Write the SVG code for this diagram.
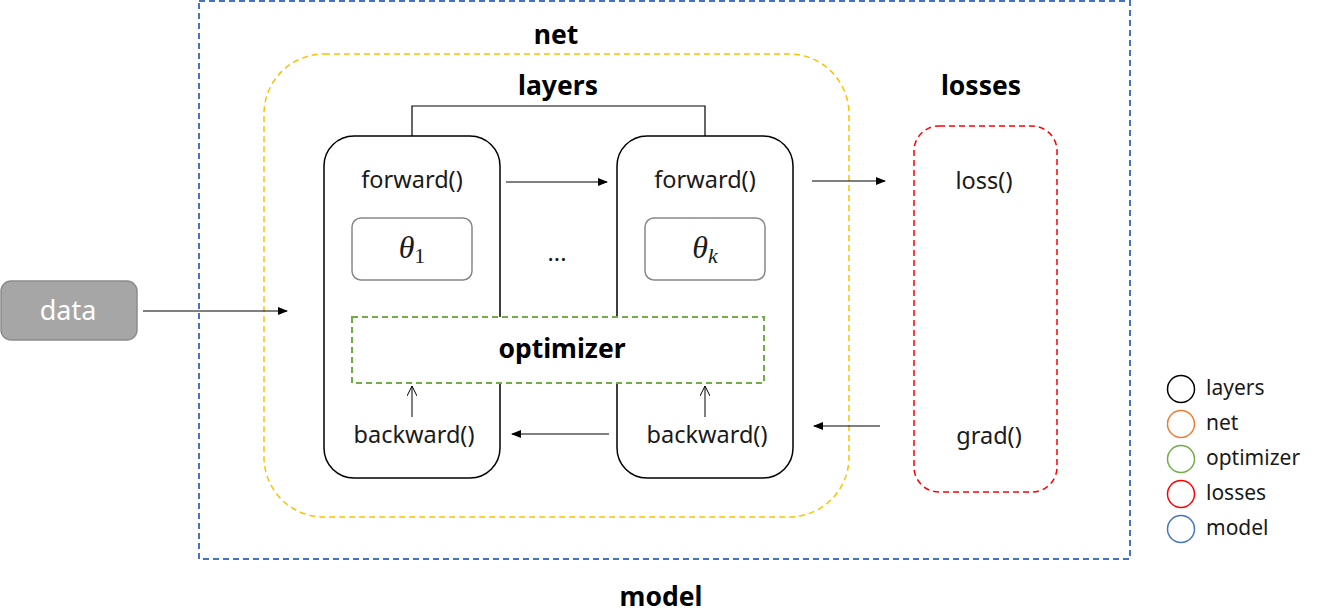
<svg xmlns="http://www.w3.org/2000/svg" width="1318" height="616" viewBox="0 0 1318 616">
<style>
text{font-family:"Noto Sans","Open Sans","Liberation Sans",sans-serif;fill:#1a1a1a;text-anchor:middle;dominant-baseline:central}
.t{font-size:23.5px}
.b{font-size:26.5px;font-weight:bold;fill:#000}
.m{font-family:"Liberation Serif","DejaVu Serif",serif;font-style:italic;font-size:32px}
.s{font-family:"Liberation Serif","DejaVu Serif",serif;font-size:22px;font-style:normal}
.si{font-family:"Liberation Serif","DejaVu Serif",serif;font-size:22px;font-style:italic}
.lg{font-size:21px;text-anchor:start}
.ln{stroke:#000;stroke-width:1.2;fill:none}
</style>
<defs>
<marker id="ah" markerWidth="10" markerHeight="8" refX="9" refY="4" orient="auto" markerUnits="userSpaceOnUse"><path d="M0,0 L10,4 L0,8 z" fill="#000"/></marker>
<marker id="oa" markerWidth="12" markerHeight="10" refX="10" refY="5" orient="auto" markerUnits="userSpaceOnUse"><path d="M0,0 L10,5 L0,10" fill="none" stroke="#000" stroke-width="1"/></marker>
</defs>
<g id="model">
<rect x="199" y="1" width="931" height="558" fill="none" stroke="#4472C4" stroke-width="2" stroke-dasharray="6,4"/>
<text class="b" x="661" y="596">model</text>
</g>
<g id="net">
<rect x="264" y="54" width="585" height="463" rx="60" fill="none" stroke="#FFC000" stroke-width="1.5" stroke-dasharray="6,4"/>
<text class="b" x="556" y="34">net</text>
</g>
<g id="layers">
<text class="b" x="558" y="85">layers</text>
<path class="ln" d="M412,136 V106 H705 V136"/>
</g>
<g id="layer1">
<rect x="324" y="136" width="176" height="342" rx="30" fill="#fff" stroke="#000" stroke-width="1.5"/>
<text class="t" x="412" y="179">forward()</text>
<rect x="352" y="218" width="120" height="62" rx="9" fill="#fff" stroke="#888" stroke-width="1.5"/>
<text class="m" x="412" y="247">θ<tspan class="s" dy="8">1</tspan></text>
<text class="t" x="414" y="434">backward()</text>
</g>
<g id="layerk">
<rect x="617" y="136" width="176" height="342" rx="30" fill="#fff" stroke="#000" stroke-width="1.5"/>
<text class="t" x="705" y="179">forward()</text>
<rect x="645" y="218" width="120" height="62" rx="9" fill="#fff" stroke="#888" stroke-width="1.5"/>
<text class="m" x="705" y="247">θ<tspan class="si" dy="8">k</tspan></text>
<text class="t" x="707" y="434">backward()</text>
</g>
<g id="dots"><text class="t" x="557" y="252">...</text></g>
<g id="optimizer">
<rect x="352" y="317" width="412" height="66" fill="#fff" stroke="#70AD47" stroke-width="2" stroke-dasharray="6,4"/>
<text class="b" x="562" y="348">optimizer</text>
</g>
<g id="losses">
<rect x="914" y="126" width="143" height="366" rx="25" fill="none" stroke="#FF0000" stroke-width="1.5" stroke-dasharray="6,4"/>
<text class="b" x="981" y="85">losses</text>
<text class="t" x="984" y="180">loss()</text>
<text class="t" x="989" y="435">grad()</text>
</g>
<g id="data">
<rect x="1" y="281" width="136" height="59" rx="10" fill="#A6A6A6" stroke="#8c8c8c" stroke-width="1.5"/>
<text x="68" y="309" style="font-size:27px;fill:#fff">data</text>
</g>
<g id="connectors">
<line class="ln" x1="143" y1="311" x2="287" y2="311" marker-end="url(#ah)"/>
<line class="ln" x1="506" y1="182" x2="607" y2="182" marker-end="url(#ah)"/>
<line class="ln" x1="812" y1="181" x2="885" y2="181" marker-end="url(#ah)"/>
<line class="ln" x1="609" y1="434" x2="512" y2="434" marker-end="url(#ah)"/>
<line class="ln" x1="880" y1="426" x2="814" y2="426" marker-end="url(#ah)"/>
<line x1="412" y1="417" x2="412" y2="386" stroke="#000" stroke-width="1" marker-end="url(#oa)"/>
<line x1="705" y1="417" x2="705" y2="386" stroke="#000" stroke-width="1" marker-end="url(#oa)"/>
</g>
<g id="legend">
<circle cx="1181" cy="389" r="13.5" fill="none" stroke="#000" stroke-width="1.5"/>
<circle cx="1181" cy="424" r="13.5" fill="none" stroke="#ED7D31" stroke-width="1.5"/>
<circle cx="1181" cy="459" r="13.5" fill="none" stroke="#70AD47" stroke-width="1.5"/>
<circle cx="1181" cy="494" r="13.5" fill="none" stroke="#FF0000" stroke-width="1.5"/>
<circle cx="1181" cy="529" r="13.5" fill="none" stroke="#4472C4" stroke-width="1.5"/>
<text class="lg" x="1206" y="387">layers</text>
<text class="lg" x="1206" y="422">net</text>
<text class="lg" x="1206" y="457">optimizer</text>
<text class="lg" x="1206" y="492">losses</text>
<text class="lg" x="1206" y="527">model</text>
</g>
</svg>
